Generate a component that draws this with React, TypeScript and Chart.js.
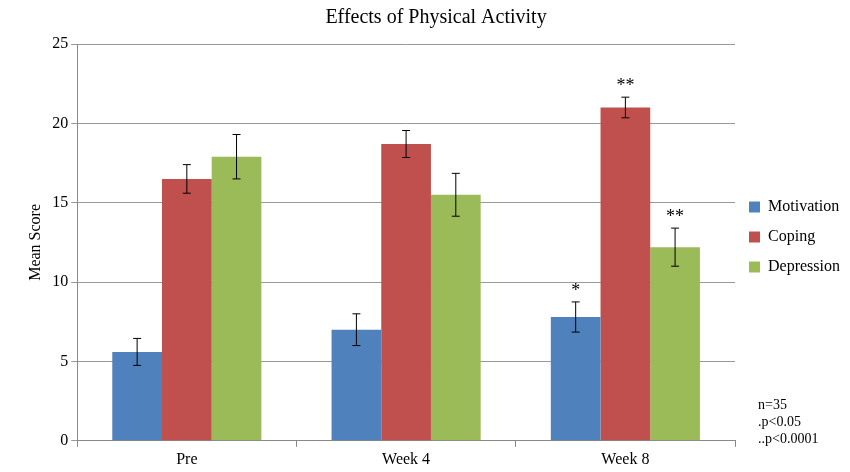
import React, { useEffect, useRef } from "react";
import { Chart, registerables } from "chart.js";

Chart.register(...registerables);

const categories = ["Pre", "Week 4", "Week 8"];
const motivation = [5.6, 7.0, 7.8];
const coping = [16.5, 18.7, 21.0];
const depression = [17.9, 15.5, 12.2];
const motivationErr = [0.85, 1.0, 0.95];
const copingErr = [0.9, 0.85, 0.65];
const depressionErr = [1.4, 1.35, 1.2];
const motivationMarks = ["", "", "*"];
const copingMarks = ["", "", "**"];
const depressionMarks = ["", "", "**"];
const notes = ["n=35", ".p<0.05", "..p<0.0001"];

const errs = [motivationErr, copingErr, depressionErr];
const marks = [motivationMarks, copingMarks, depressionMarks];
const FONT = "'Liberation Serif', 'DejaVu Serif', serif";

const errorBars = {
  id: "errorBars",
  afterDatasetsDraw(chart: any) {
    const ctx = chart.ctx;
    const y = chart.scales.y;
    ctx.save();
    chart.data.datasets.forEach((ds: any, di: number) => {
      const meta = chart.getDatasetMeta(di);
      meta.data.forEach((bar: any, i: number) => {
        const v = ds.data[i];
        const e = errs[di][i];
        const top = y.getPixelForValue(v + e);
        const bot = y.getPixelForValue(v - e);
        ctx.strokeStyle = "#000";
        ctx.lineWidth = 1;
        ctx.beginPath();
        ctx.moveTo(bar.x, top);
        ctx.lineTo(bar.x, bot);
        ctx.moveTo(bar.x - 4, top);
        ctx.lineTo(bar.x + 4, top);
        ctx.moveTo(bar.x - 4, bot);
        ctx.lineTo(bar.x + 4, bot);
        ctx.stroke();
        const m = marks[di][i];
        if (m) {
          ctx.fillStyle = "#000";
          ctx.font = `18px ${FONT}`;
          ctx.textAlign = "center";
          ctx.textBaseline = "bottom";
          ctx.fillText(m, bar.x, top - 2);
        }
      });
    });
    ctx.font = `14px ${FONT}`;
    ctx.fillStyle = "#000";
    ctx.textAlign = "left";
    ctx.textBaseline = "alphabetic";
    notes.forEach((t, i) => ctx.fillText(t, 758, 409 + i * 17));
    ctx.restore();
  },
};

export default function App() {
  const ref = useRef<HTMLCanvasElement>(null);
  useEffect(() => {
    document.body.style.margin = "0";
    if (!ref.current) return;
    const chart = new Chart(ref.current, {
      type: "bar",
      data: {
        labels: categories,
        datasets: [
          { label: "Motivation", data: motivation, backgroundColor: "#4F81BD" },
          { label: "Coping", data: coping, backgroundColor: "#C0504D" },
          { label: "Depression", data: depression, backgroundColor: "#9BBB59" },
        ],
      },
      options: {
        animation: false,
        responsive: false,
        layout: { padding: { top: 2, right: 0, bottom: 0, left: 22 } },
        datasets: { bar: { categoryPercentage: 0.68, barPercentage: 1 } },
        scales: {
          x: {
            grid: { display: true, drawOnChartArea: false, tickLength: 6, color: "#888" },
            border: { color: "#888" },
            ticks: { color: "#000", font: { family: FONT, size: 16 } },
          },
          y: {
            min: 0,
            max: 25,
            ticks: { stepSize: 5, color: "#000", font: { family: FONT, size: 16 } },
            grid: { color: "#999", drawTicks: true, tickLength: 6 },
            border: { color: "#888" },
            title: { display: true, text: "Mean Score", color: "#000", font: { family: FONT, size: 16 } },
          },
        },
        plugins: {
          title: {
            display: true,
            text: "Effects of Physical Activity",
            color: "#000",
            font: { family: FONT, size: 20, weight: "normal" },
            padding: { top: 4, bottom: 14 },
          },
          legend: {
            position: "right",
            labels: { color: "#000", boxWidth: 11, boxHeight: 11, padding: 14, font: { family: FONT, size: 16 } },
          },
          tooltip: { enabled: false },
        },
      },
      plugins: [errorBars],
    });
    return () => chart.destroy();
  }, []);
  return (
    <div style={{ width: 850, height: 472, background: "#fff" }}>
      <canvas ref={ref} width={850} height={472} />
    </div>
  );
}
